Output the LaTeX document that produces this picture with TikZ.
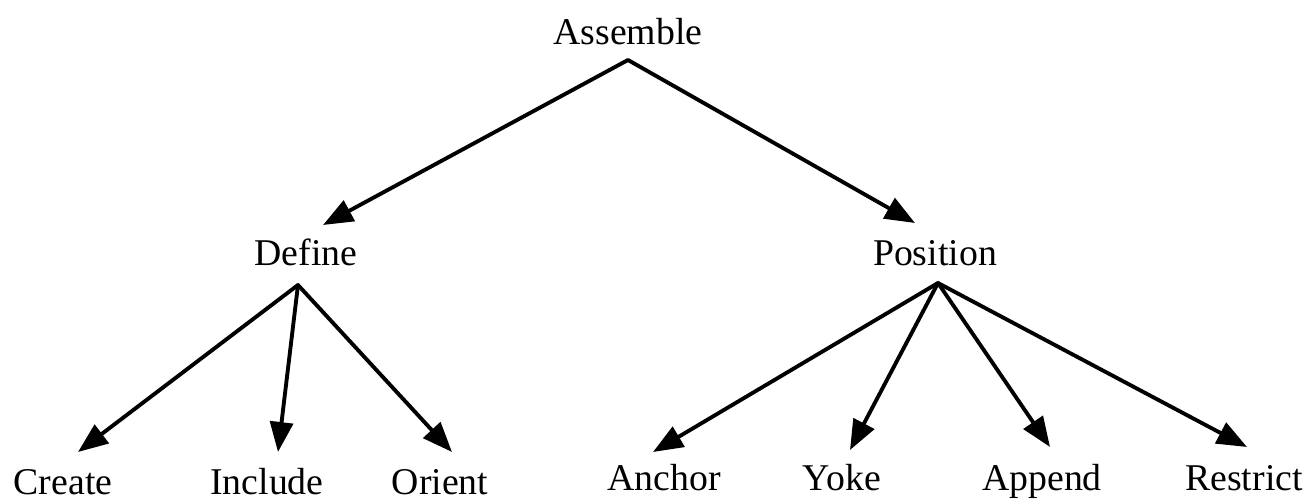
\documentclass[tikz,border=0pt]{standalone}
\usepackage{fontspec}
\setmainfont{Liberation Serif}
\usetikzlibrary{arrows.meta,calc}
\begin{document}
\begin{tikzpicture}[x=0.02cm,y=-0.02cm,
  lbl/.style={inner sep=0pt,outer sep=0pt,anchor=base,font=\fontsize{21.5}{24}\selectfont},
  arr/.style={line width=2.2pt,line cap=round,line join=miter,-{Triangle[length=0.6cm,width=0.46cm]}}]
\useasboundingbox (0,0) rectangle (1309,503);
% nodes
\node[lbl] (assemble) at (628,45) {Assemble};
\node[lbl] (define) at (306,266) {Define};
\node[lbl] (position) at (935,266) {Position};
\node[lbl] (create) at (63,494) {Create};
\node[lbl] (include) at (267,494) {Include};
\node[lbl] (orient) at (440,494) {Orient};
\node[lbl] (anchor) at (664,490) {Anchor};
\node[lbl] (yoke) at (842,490) {Yoke};
\node[lbl] (append) at (1042,490) {Append};
\node[lbl] (restrict) at (1244,490) {Restrict};
% connectors
\draw[arr] ($(assemble.base)+(0,15)$) -- ($(define.base)+(17,-41)$);
\draw[arr] ($(assemble.base)+(0,15)$) -- ($(position.base)+(-20,-43)$);
\draw[arr] ($(define.base)+(-8,19)$) -- ($(create.base)+(15,-42)$);
\draw[arr] ($(define.base)+(-8,19)$) -- ($(include.base)+(11,-42)$);
\draw[arr] ($(define.base)+(-8,19)$) -- ($(orient.base)+(12,-42)$);
\draw[arr] ($(position.base)+(3,17)$) -- ($(anchor.base)+(-11,-38)$);
\draw[arr] ($(position.base)+(3,17)$) -- ($(yoke.base)+(8,-40)$);
\draw[arr] ($(position.base)+(3,17)$) -- ($(append.base)+(8,-43)$);
\draw[arr] ($(position.base)+(3,17)$) -- ($(restrict.base)+(3,-43)$);
\end{tikzpicture}
\end{document}
